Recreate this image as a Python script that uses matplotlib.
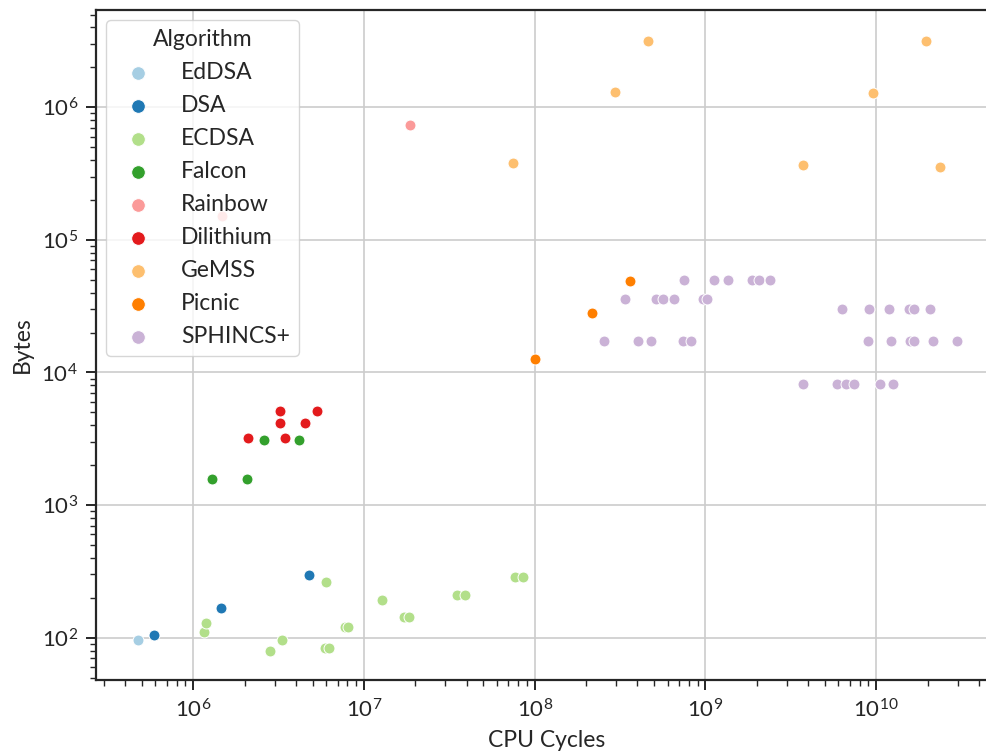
import matplotlib
matplotlib.use("Agg")
import matplotlib.pyplot as plt

# ---- data (CPU cycles, bytes) ----
algorithms = ["EdDSA", "DSA", "ECDSA", "Falcon", "Rainbow", "Dilithium",
              "GeMSS", "Picnic", "SPHINCS+"]

eddsa_x = [4.73e5]
eddsa_y = [96]

dsa_x = [5.86e5, 1.45e6, 4.79e6]
dsa_y = [104, 168, 297]

ecdsa_x = [1.16e6, 1.18e6, 2.81e6, 3.32e6, 5.93e6, 6.27e6, 5.99e6, 7.74e6,
           8.09e6, 1.28e7, 1.71e7, 1.84e7, 3.52e7, 3.92e7, 7.69e7, 8.57e7]
ecdsa_y = [111, 128, 80, 96, 84, 84, 264, 120,
           120, 192, 144, 144, 209, 209, 288, 288]

falcon_x = [1.29e6, 2.05e6, 2.60e6, 4.18e6]
falcon_y = [1563, 1563, 3073, 3073]

rainbow_x = [1.47e6, 1.86e7]
rainbow_y = [1.5e5, 7.31e5]

dilithium_x = [2.09e6, 3.46e6, 3.22e6, 4.53e6, 3.21e6, 5.32e6]
dilithium_y = [3228, 3228, 4173, 4173, 5126, 5126]

gemss_x = [7.5e7, 2.97e8, 4.61e8, 3.73e9, 9.64e9, 1.96e10, 2.38e10]
gemss_y = [3.80e5, 1.31e6, 3.18e6, 3.69e5, 1.29e6, 3.14e6, 3.56e5]

picnic_x = [1.01e8, 2.17e8, 3.63e8]
picnic_y = [12660, 27870, 48750]

sphincs_x = [7.52e8, 1.127e9, 1.356e9, 1.874e9, 2.07e9, 2.40e9,
             3.40e8, 5.14e8, 5.63e8, 6.55e8, 9.64e8, 1.026e9,
             2.55e8, 4.05e8, 4.78e8, 7.36e8, 8.20e8,
             6.31e9, 9.12e9, 1.186e10, 1.553e10, 1.668e10, 2.07e10,
             8.97e9, 1.228e10, 1.58e10, 1.668e10, 2.15e10, 2.96e10,
             3.73e9, 5.88e9, 6.63e9, 7.45e9, 1.054e10, 1.25e10]
sphincs_y = [49600] * 6 + [35900] * 6 + [17200] * 5 + \
            [30000] * 6 + [17200] * 6 + [8200] * 6

series = [(eddsa_x, eddsa_y), (dsa_x, dsa_y), (ecdsa_x, ecdsa_y),
          (falcon_x, falcon_y), (rainbow_x, rainbow_y),
          (dilithium_x, dilithium_y), (gemss_x, gemss_y),
          (picnic_x, picnic_y), (sphincs_x, sphincs_y)]

colors = ["#a6cee3", "#1f78b4", "#b2df8a", "#33a02c", "#fb9a99",
          "#e31a1c", "#fdbf6f", "#ff7f00", "#cab2d6"]

# ---- style ----
plt.rcParams["font.family"] = ["Lato", "DejaVu Sans"]
plt.rcParams["mathtext.fontset"] = "cm"
plt.rcParams["axes.edgecolor"] = "#262626"
plt.rcParams["text.color"] = "#262626"
plt.rcParams["axes.labelcolor"] = "#262626"
plt.rcParams["xtick.color"] = "#262626"
plt.rcParams["ytick.color"] = "#262626"

fig = plt.figure(figsize=(9.86, 7.53), dpi=100)
W, H = 986, 753
left, right, top, bottom = 96, 998, 10, 680
ax = fig.add_axes([left / W, 1 - bottom / H, (right - left) / W, (bottom - top) / H])

for name, (xs, ys), c in zip(algorithms, series, colors):
    ax.scatter(xs, ys, s=62, color=c, edgecolor="white", linewidth=0.7,
               label=name, zorder=3)

ax.set_xscale("log")
ax.set_yscale("log")
ax.set_xlim(10 ** 5.430, 10 ** 10.714)
ax.set_ylim(10 ** 1.681, 10 ** 6.733)

ax.grid(True, which="major", color="#cccccc", linewidth=1.2, zorder=0)
ax.set_axisbelow(True)
for sp in ax.spines.values():
    sp.set_linewidth(1.6)

ax.tick_params(which="major", direction="out", length=7, width=1.4,
               labelsize=16, pad=6)
ax.tick_params(which="minor", direction="out", length=4, width=1.0)

ax.set_xlabel("CPU Cycles", fontsize=16.5, labelpad=6)
ax.set_ylabel("Bytes", fontsize=16.5, labelpad=6)

leg = ax.legend(title="Algorithm", loc="upper left", fontsize=16.5,
                title_fontsize=16.5, handletextpad=0.85, borderaxespad=0.45,
                labelspacing=0.52, markerscale=1.25, frameon=True,
                fancybox=True, framealpha=0.8, edgecolor="#cccccc")

fig.savefig("out.png", dpi=100)
